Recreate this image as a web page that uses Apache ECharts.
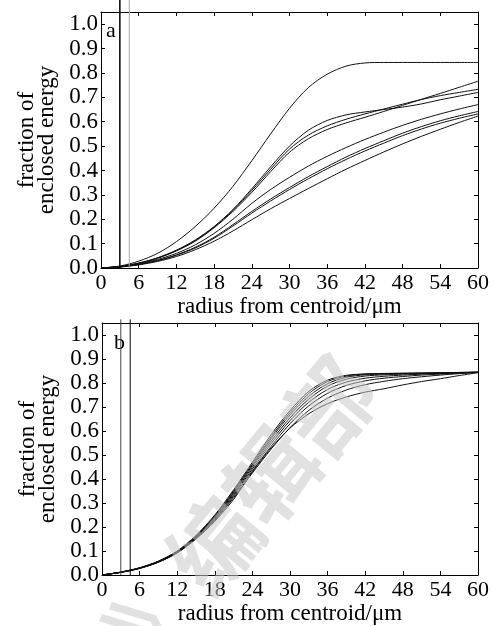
<!DOCTYPE html>
<html>
<head>
<meta charset="utf-8">
<script src="https://cdn.jsdelivr.net/npm/echarts@6/dist/echarts.min.js"></script>
<style>
html,body{margin:0;padding:0;background:#fff;}
#chart{width:492px;height:626px;}
</style>
</head>
<body>
<div id="chart"></div>
<script>
/****************************** 数据 ******************************/
// radius samples (um), shared by every curve
var radius = [0,3,6,9,12,15,18,21,24,27,30,33,36,39,42,45,48,51,54,57,60];
var xTicks = [0,6,12,18,24,30,36,42,48,54,60];
var yTicks = [0.0,0.1,0.2,0.3,0.4,0.5,0.6,0.7,0.8,0.9,1.0];
// the two vertical marker lines
var markerX = [3, 4.5];

// panel a
var a1 = [0,0.008,0.028,0.06,0.108,0.17,0.245,0.335,0.44,0.55,0.655,0.74,0.795,0.828,0.841,0.843,0.843,0.843,0.843,0.843,0.843];
var a2 = [0,0.006,0.02,0.042,0.073,0.115,0.17,0.24,0.325,0.415,0.5,0.565,0.605,0.628,0.64,0.65,0.66,0.673,0.69,0.705,0.72];
var a3 = [0,0.006,0.019,0.04,0.07,0.11,0.165,0.232,0.31,0.395,0.475,0.53,0.568,0.595,0.618,0.642,0.667,0.692,0.716,0.741,0.766];
var a4 = [0,0.006,0.02,0.041,0.072,0.112,0.168,0.236,0.318,0.405,0.488,0.545,0.583,0.61,0.632,0.652,0.672,0.691,0.707,0.72,0.733];
var a5 = [0,0.005,0.017,0.035,0.06,0.095,0.142,0.2,0.265,0.322,0.372,0.418,0.458,0.494,0.527,0.557,0.585,0.61,0.632,0.652,0.67];
var a6 = [0,0.005,0.015,0.031,0.054,0.085,0.126,0.178,0.232,0.283,0.33,0.375,0.416,0.455,0.49,0.522,0.553,0.58,0.604,0.624,0.642];
var a7 = [0,0.004,0.014,0.03,0.052,0.082,0.122,0.172,0.225,0.275,0.322,0.366,0.407,0.445,0.48,0.512,0.543,0.57,0.594,0.614,0.632];
var a8 = [0,0.004,0.013,0.027,0.047,0.075,0.11,0.152,0.198,0.243,0.285,0.326,0.366,0.405,0.441,0.476,0.509,0.54,0.569,0.597,0.623];

// panel b
var b1 = [0,0.012,0.03,0.058,0.1,0.165,0.25,0.355,0.47,0.585,0.685,0.765,0.812,0.832,0.838,0.84,0.841,0.842,0.843,0.844,0.845];
var b2 = [0,0.012,0.03,0.057,0.098,0.162,0.246,0.35,0.463,0.576,0.676,0.756,0.806,0.829,0.837,0.839,0.84,0.841,0.842,0.844,0.845];
var b3 = [0,0.012,0.029,0.056,0.097,0.16,0.243,0.345,0.457,0.568,0.667,0.745,0.797,0.824,0.834,0.837,0.839,0.84,0.842,0.843,0.845];
var b4 = [0,0.012,0.029,0.056,0.096,0.158,0.24,0.34,0.45,0.558,0.655,0.733,0.787,0.816,0.829,0.834,0.837,0.839,0.841,0.843,0.845];
var b5 = [0,0.011,0.028,0.055,0.095,0.156,0.236,0.334,0.442,0.548,0.643,0.72,0.773,0.804,0.82,0.828,0.833,0.837,0.84,0.842,0.844];
var b6 = [0,0.011,0.028,0.054,0.094,0.154,0.232,0.328,0.434,0.537,0.63,0.705,0.757,0.79,0.809,0.82,0.827,0.833,0.837,0.841,0.844];
var b7 = [0,0.011,0.028,0.054,0.093,0.152,0.228,0.322,0.425,0.525,0.614,0.686,0.737,0.771,0.793,0.807,0.818,0.826,0.833,0.839,0.844];
var b8 = [0,0.011,0.027,0.053,0.092,0.15,0.224,0.315,0.43,0.53,0.612,0.672,0.714,0.742,0.762,0.776,0.792,0.806,0.818,0.831,0.843];

var curvesA = [a1,a2,a3,a4,a5,a6,a7,a8];
var curvesB = [b1,b2,b3,b4,b5,b6,b7,b8];
/****************************** 数据 ******************************/

var chart = echarts.init(document.getElementById('chart'));
var serif = 'Liberation Serif';

function pairs(ys){
	var out = [];
	for(var i = 0; i < radius.length; i++){
		out.push([radius[i], ys[i]]);
	}
	return out;
}

function xAxisCfg(gridIndex, position, isMain){
	return {
		type: 'value', gridIndex: gridIndex, position: position,
		min: xTicks[0], max: xTicks[xTicks.length-1], interval: xTicks[1]-xTicks[0],
		axisLine: {show: true, onZero: false, lineStyle: {color: '#000', width: 1}},
		axisTick: {show: true, inside: true, length: 4, lineStyle: {color: '#000'}},
		axisLabel: {show: isMain, color: '#000', fontFamily: serif, fontSize: 22, margin: 4},
		splitLine: {show: false},
		name: isMain ? 'radius from centroid/\u03bcm' : '',
		nameLocation: 'middle', nameGap: 27,
		nameTextStyle: {color: '#000', fontFamily: serif, fontSize: 23}
	};
}

function yAxisCfg(gridIndex, position, isMain){
	return {
		type: 'value', gridIndex: gridIndex, position: position,
		min: yTicks[0], max: 1.05, interval: 0.1,
		axisLine: {show: true, onZero: false, lineStyle: {color: '#000', width: 1}},
		axisTick: {show: true, inside: true, length: 4, lineStyle: {color: '#000'}},
		axisLabel: {show: isMain, color: '#000', fontFamily: serif, fontSize: 23, margin: 3,
			showMaxLabel: false,
			formatter: function(v){ return v.toFixed(1); }},
		splitLine: {show: false},
		name: isMain ? 'fraction of\nenclosed energy' : '',
		nameLocation: 'middle', nameRotate: 90, nameGap: 44,
		nameTextStyle: {color: '#000', fontFamily: serif, fontSize: 23, lineHeight: 20}
	};
}

var series = [];
function addPanel(curves, axisIndex, topY, markerColors, markerWidths){
	for(var i = 0; i < curves.length; i++){
		series.push({
			type: 'line', xAxisIndex: axisIndex, yAxisIndex: axisIndex,
			data: pairs(curves[i]), smooth: 0.3, showSymbol: false,
			lineStyle: {color: '#111', width: 1}, silent: true
		});
	}
	for(var k = 0; k < markerX.length; k++){
		series.push({
			type: 'line', xAxisIndex: axisIndex, yAxisIndex: axisIndex, clip: false,
			data: [[markerX[k], 0], [markerX[k], topY]], showSymbol: false,
			lineStyle: {color: markerColors[k], width: markerWidths[k]}, silent: true
		});
	}
}
addPanel(curvesA, 0, 1.1, ['#000', '#a8a8a8'], [1.5, 1]);
addPanel(curvesB, 2, 1.065, ['#444', '#000'], [1, 1]);

var option = {
	animation: false,
	backgroundColor: '#fff',
	grid: [
		{left: 101, top: 12, width: 377, height: 256},
		{left: 102, top: 323, width: 376, height: 255}
	],
	xAxis: [xAxisCfg(0, 'bottom', true), xAxisCfg(0, 'top', false), xAxisCfg(1, 'bottom', true), xAxisCfg(1, 'top', false)],
	yAxis: [yAxisCfg(0, 'left', true), yAxisCfg(0, 'right', false), yAxisCfg(1, 'left', true), yAxisCfg(1, 'right', false)],
	graphic: [
		{type: 'text', x: 106, y: 20, style: {text: 'a', font: '22px "Liberation Serif"', fill: '#000'}},
		{type: 'text', x: 114, y: 332, style: {text: 'b', font: '22px "Liberation Serif"', fill: '#000'}},
		// 水印
		{type: 'text', x: 243, y: 510, rotation: 0.88, z: 100,
			style: {text: '\u300b\u7f16\u8f91\u90e8', font: 'bold 90px "Noto Sans CJK SC"', fill: 'rgba(200,200,200,0.55)',
				align: 'center', verticalAlign: 'middle'}}
	],
	series: series
};
chart.setOption(option);
</script>
</body>
</html>
